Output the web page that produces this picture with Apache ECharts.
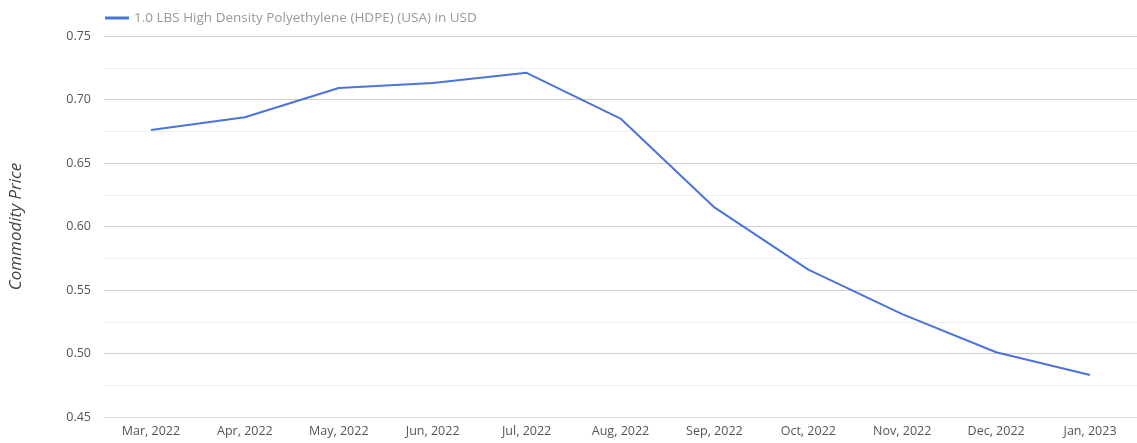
<!DOCTYPE html>
<html><head><meta charset="utf-8">
<script src="https://cdn.jsdelivr.net/npm/echarts@6/dist/echarts.min.js"></script>
<style>html,body{margin:0;padding:0;background:#fff}#c{width:1137px;height:443px}</style>
</head><body><div id="c"></div>
<script>
const categories = ["Mar, 2022","Apr, 2022","May, 2022","Jun, 2022","Jul, 2022","Aug, 2022","Sep, 2022","Oct, 2022","Nov, 2022","Dec, 2022","Jan, 2023"];
const hdpeValues = [0.676, 0.686, 0.709, 0.713, 0.721, 0.685, 0.615, 0.566, 0.531, 0.501, 0.483];
const seriesName = "1.0 LBS High Density Polyethylene (HDPE) (USA) in USD";
const yAxisName = "Commodity Price";

const chart = echarts.init(document.getElementById('c'), null, {renderer:'canvas'});
chart.setOption({
  animation: false,
  textStyle: {fontFamily: '"Open Sans", sans-serif'},
  legend: {
    left: 100, top: 6,
    itemWidth: 24, itemHeight: 3, itemGap: 6,
    icon: 'rect',
    textStyle: {color: '#999', fontSize: 13.5},
    data: [seriesName]
  },
  grid: {left: 103, top: 36, width: 1039, height: 381, containLabel: false},
  xAxis: {
    type: 'category', data: categories, boundaryGap: true,
    axisLine: {show: true, lineStyle: {color: '#ddd'}},
    axisTick: {show: false},
    axisLabel: {color: '#555', fontSize: 12.5, margin: 8}
  },
  yAxis: {
    type: 'value', min: 0.45, max: 0.75, interval: 0.05,
    name: yAxisName, nameLocation: 'middle', nameGap: 79,
    nameTextStyle: {color: '#444', fontSize: 17, fontStyle: 'italic'},
    axisLine: {show: false}, axisTick: {show: false},
    axisLabel: {color: '#555', fontSize: 12.5, margin: 13, formatter: v => v.toFixed(2)},
    splitLine: {lineStyle: {color: '#cfcfcf'}},
    minorTick: {show: false, splitNumber: 2},
    minorSplitLine: {show: true, lineStyle: {color: '#eeeeee'}}
  },
  series: [{
    name: seriesName, type: 'line', data: hdpeValues,
    symbol: 'none', smooth: false,
    lineStyle: {color: '#4a74dc', width: 2},
    itemStyle: {color: '#4a74dc'}
  }]
});
</script></body></html>
